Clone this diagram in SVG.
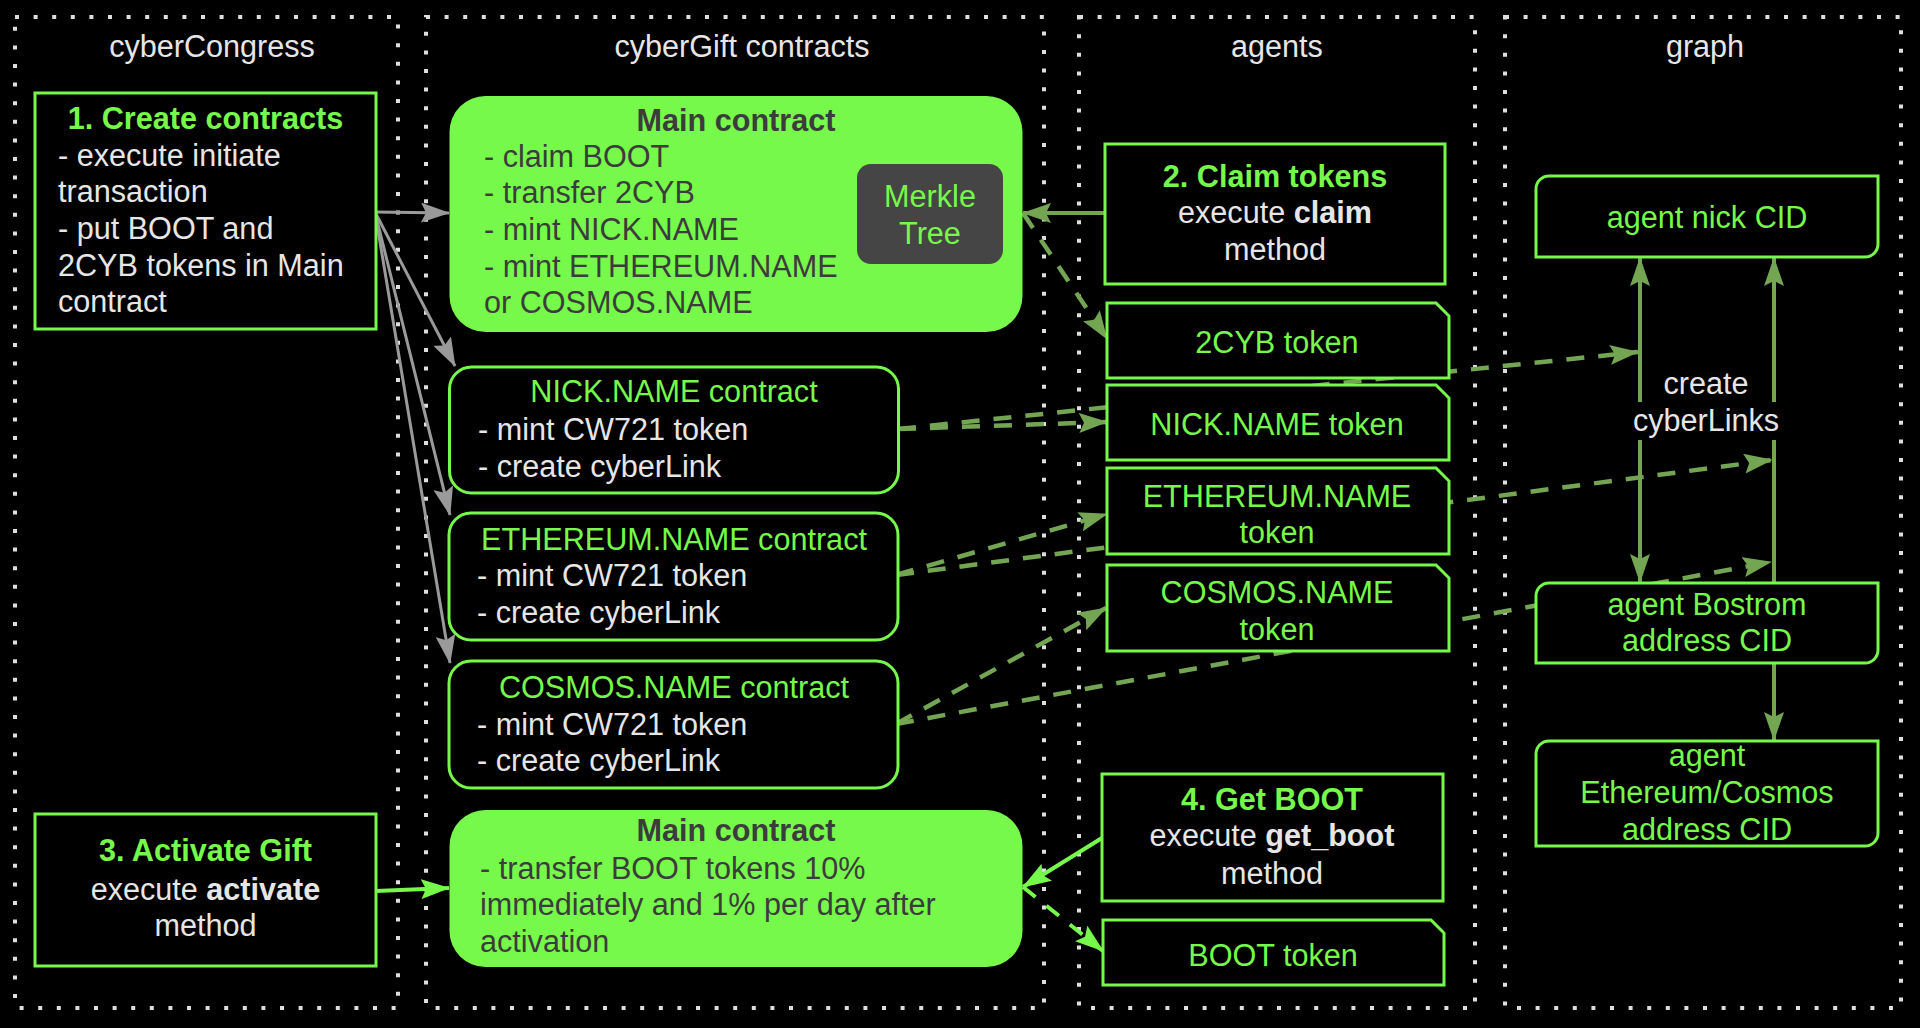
<svg xmlns="http://www.w3.org/2000/svg" width="1920" height="1028" viewBox="0 0 1920 1028">
<style>
text{font-family:"Liberation Sans",Arial,sans-serif;font-size:30.6px}
.lane{fill:none;stroke:#dedede;stroke-width:4;stroke-dasharray:4 14.6}
.title{fill:#e6e6e6;text-anchor:middle}
.w{fill:#e6e6e6}
.g{fill:#76f94a}
.d{fill:#3c3c3c}
.b{font-weight:bold}
.m{text-anchor:middle}
.box{fill:#000;stroke:#76f94a;stroke-width:3}
.main{fill:#76f94a;stroke:none}
.gray{stroke:#9a9a9a;stroke-width:3;fill:none;marker-end:url(#mGray)}
.mut{stroke:#73a553;stroke-width:4;fill:none}
.mutd{stroke:#73a553;stroke-width:4.5;fill:none;stroke-dasharray:18 14}
.brt{stroke:#76f94a;stroke-width:4;fill:none}
.brtd{stroke:#76f94a;stroke-width:4;fill:none;stroke-dasharray:16 14}
</style>
<defs>
<marker id="mGray" markerUnits="userSpaceOnUse" viewBox="0 0 29 20" markerWidth="29" markerHeight="20" refX="28" refY="10" orient="auto"><path d="M0,0 L29,10 L0,20 L5,10 Z" fill="#9a9a9a"/></marker>
<marker id="mMut" markerUnits="userSpaceOnUse" viewBox="0 0 29 20" markerWidth="29" markerHeight="20" refX="28" refY="10" orient="auto"><path d="M0,0 L29,10 L0,20 L5,10 Z" fill="#73a553"/></marker>
<marker id="mBrt" markerUnits="userSpaceOnUse" viewBox="0 0 29 20" markerWidth="29" markerHeight="20" refX="28" refY="10" orient="auto"><path d="M0,0 L29,10 L0,20 L5,10 Z" fill="#76f94a"/></marker>
</defs>
<rect width="1920" height="1028" fill="#000"/>

<g id="lanes">
<rect class="lane" x="15" y="17" width="383" height="991"/>
<rect class="lane" x="426" y="17" width="618" height="991"/>
<rect class="lane" x="1079" y="17" width="396" height="991"/>
<rect class="lane" x="1505" y="17" width="396" height="991"/>
<text class="title" x="212" y="57">cyberCongress</text>
<text class="title" x="742" y="57">cyberGift contracts</text>
<text class="title" x="1277" y="57">agents</text>
<text class="title" x="1705" y="57">graph</text>
</g>

<g id="connectors">
<path class="gray" d="M375,212 L449,213"/>
<path class="gray" d="M375,212 L455,366"/>
<path class="gray" d="M375,212 L450,515"/>
<path class="gray" d="M375,212 L450,663"/>
<path class="brt" style="marker-end:url(#mBrt)" d="M376,891 L449,888"/>
<path class="brt" style="marker-end:url(#mBrt)" d="M1102,838 L1023,887"/>
<path class="brtd" style="marker-end:url(#mBrt)" d="M1023,887 L1103,951"/>
<path class="mut" style="marker-end:url(#mMut)" d="M1105,213 L1023,213"/>
<path class="mutd" style="marker-end:url(#mMut)" d="M1023,213 L1107,339"/>
<path class="mutd" style="marker-end:url(#mMut)" d="M898,429 L1107,422"/>
<path class="mutd" style="marker-end:url(#mMut)" d="M898,429 L1638,352"/>
<path class="mutd" style="marker-end:url(#mMut)" d="M896,575 L1107,514"/>
<path class="mutd" style="marker-end:url(#mMut)" d="M896,575 L1772,460"/>
<path class="mutd" style="marker-end:url(#mMut)" d="M896,724 L1106,608"/>
<path class="mutd" style="marker-end:url(#mMut)" d="M896,724 L1771,562"/>
<path class="mut" style="marker-end:url(#mMut)" d="M1640,402 L1640,258"/>
<path class="mut" style="marker-end:url(#mMut)" d="M1640,440 L1640,582"/>
<path class="mut" style="marker-end:url(#mMut)" d="M1774,402 L1774,258"/>
<path class="mut" d="M1774,583 L1774,440"/>
<path class="mut" style="marker-end:url(#mMut)" d="M1774,663 L1774,740"/>
<text class="w m" x="1706" y="394">create</text>
<text class="w m" x="1706" y="431">cyberLinks</text>
</g>

<g id="create-contracts">
<rect class="box" x="35" y="93" width="341" height="236"/>
<text class="g b m" x="205.5" y="129">1. Create contracts</text>
<text class="w" x="58" y="166">- execute initiate</text>
<text class="w" x="58" y="202">transaction</text>
<text class="w" x="58" y="239">- put BOOT and</text>
<text class="w" x="58" y="276">2CYB tokens in Main</text>
<text class="w" x="58" y="312">contract</text>
</g>

<g id="main-contract-1">
<rect class="main" x="449.5" y="96" width="573" height="236" rx="36"/>
<text class="d b m" x="736" y="131">Main contract</text>
<text class="d" x="484" y="167">- claim BOOT</text>
<text class="d" x="484" y="203">- transfer 2CYB</text>
<text class="d" x="484" y="240">- mint NICK.NAME</text>
<text class="d" x="484" y="277">- mint ETHEREUM.NAME</text>
<text class="d" x="484" y="313">or COSMOS.NAME</text>
</g>

<g id="merkle-tree">
<rect x="857" y="164" width="146" height="100" rx="14" fill="#454545"/>
<text class="g m" x="930" y="207">Merkle</text>
<text class="g m" x="930" y="244">Tree</text>
</g>

<g id="nick-contract">
<rect class="box" x="449.5" y="367" width="449" height="126" rx="22"/>
<text class="g m" x="674" y="402">NICK.NAME contract</text>
<text class="w" x="478" y="440">- mint CW721 token</text>
<text class="w" x="478" y="477">- create cyberLink</text>
</g>

<g id="ethereum-contract">
<rect class="box" x="449" y="513" width="449" height="127" rx="22"/>
<text class="g m" x="674" y="550">ETHEREUM.NAME contract</text>
<text class="w" x="477" y="586">- mint CW721 token</text>
<text class="w" x="477" y="623">- create cyberLink</text>
</g>

<g id="cosmos-contract">
<rect class="box" x="449" y="661" width="449" height="127" rx="22"/>
<text class="g m" x="674" y="698">COSMOS.NAME contract</text>
<text class="w" x="477" y="735">- mint CW721 token</text>
<text class="w" x="477" y="771">- create cyberLink</text>
</g>

<g id="main-contract-2">
<rect class="main" x="449.5" y="810" width="573" height="157" rx="36"/>
<text class="d b m" x="736" y="841">Main contract</text>
<text class="d" x="480" y="879">- transfer BOOT tokens 10%</text>
<text class="d" x="480" y="915">immediately and 1% per day after</text>
<text class="d" x="480" y="952">activation</text>
</g>

<g id="activate-gift">
<rect class="box" x="35" y="814" width="341" height="152"/>
<text class="g b m" x="205.5" y="861">3. Activate Gift</text>
<text class="w m" x="205.5" y="900">execute <tspan class="b">activate</tspan></text>
<text class="w m" x="205.5" y="936">method</text>
</g>

<g id="claim-tokens">
<rect class="box" x="1105" y="144" width="340" height="140"/>
<text class="g b m" x="1275" y="187">2. Claim tokens</text>
<text class="w m" x="1275" y="223">execute <tspan class="b">claim</tspan></text>
<text class="w m" x="1275" y="260">method</text>
</g>

<g id="token-2cyb">
<path class="box" d="M1107,303 H1436 L1449,316 V378 H1107 Z"/>
<text class="g m" x="1277" y="353">2CYB token</text>
</g>

<g id="token-nick">
<path class="box" d="M1107,385 H1436 L1449,398 V460 H1107 Z"/>
<text class="g m" x="1277" y="435">NICK.NAME token</text>
</g>

<g id="token-ethereum">
<path class="box" d="M1107,468 H1436 L1449,481 V554 H1107 Z"/>
<text class="g m" x="1277" y="507">ETHEREUM.NAME</text>
<text class="g m" x="1277" y="543">token</text>
</g>

<g id="token-cosmos">
<path class="box" d="M1107,565 H1436 L1449,578 V651 H1107 Z"/>
<text class="g m" x="1277" y="603">COSMOS.NAME</text>
<text class="g m" x="1277" y="640">token</text>
</g>

<g id="get-boot">
<rect class="box" x="1102" y="774" width="341" height="127"/>
<text class="g b m" x="1272" y="810">4. Get BOOT</text>
<text class="w m" x="1272" y="846">execute <tspan class="b">get_boot</tspan></text>
<text class="w m" x="1272" y="884">method</text>
</g>

<g id="token-boot">
<path class="box" d="M1103,920 H1431 L1444,933 V985 H1103 Z"/>
<text class="g m" x="1273" y="966">BOOT token</text>
</g>

<g id="agent-nick-cid">
<path class="box" d="M1536,189 A13,13 0 0 1 1549,176 H1878 V244 A13,13 0 0 1 1865,257 H1536 Z"/>
<text class="g m" x="1707" y="228">agent nick CID</text>
</g>

<g id="agent-bostrom-cid">
<path class="box" d="M1536,596 A13,13 0 0 1 1549,583 H1878 V650 A13,13 0 0 1 1865,663 H1536 Z"/>
<text class="g m" x="1707" y="615">agent Bostrom</text>
<text class="g m" x="1707" y="651">address CID</text>
</g>

<g id="agent-ethcosmos-cid">
<path class="box" d="M1536,754 A13,13 0 0 1 1549,741 H1878 V833 A13,13 0 0 1 1865,846 H1536 Z"/>
<text class="g m" x="1707" y="766">agent</text>
<text class="g m" x="1707" y="803">Ethereum/Cosmos</text>
<text class="g m" x="1707" y="840">address CID</text>
</g>
</svg>
